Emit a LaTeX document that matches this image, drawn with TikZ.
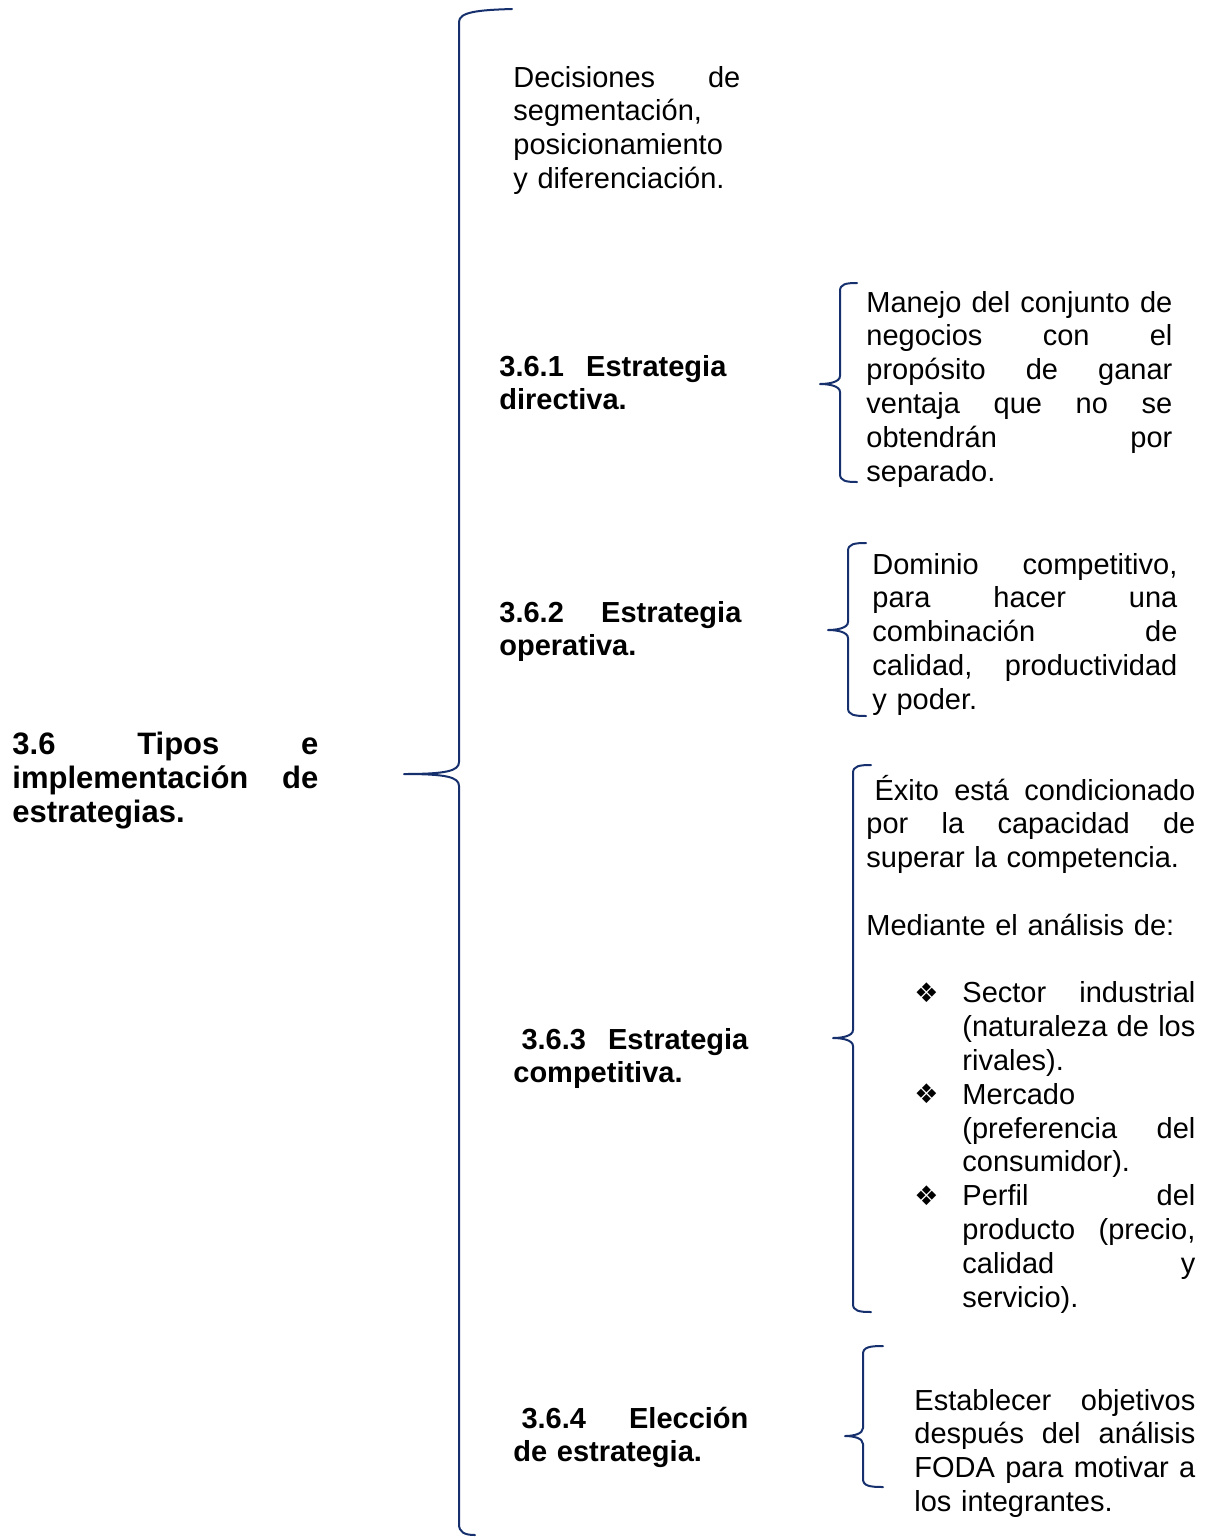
\documentclass[tikz,border=0pt]{standalone}
\usepackage{fontspec}
\setmainfont{Liberation Sans}
\newfontfamily\symfont{DejaVu Sans}
\definecolor{bracecol}{RGB}{22,48,110}
\newlength\jw
\newcommand\jlw[2]{\leavevmode{\spaceskip=0.278em plus 1fil\relax\hbox to #1{#2}}}
\newcommand\jl[1]{\jlw{\jw}{#1}}
\newcommand\bi[1]{\leavevmode\makebox[48pt][l]{\hspace*{24pt}\raisebox{0.3pt}{\symfont\fontsize{13.5pt}{16.9pt}\selectfont ❖}}\jlw{116.5pt}{#1}}
\newcommand\bc[1]{\leavevmode\hspace*{48pt}\jlw{116.5pt}{#1}}
\newcommand\bn[1]{\leavevmode\hspace*{48pt}#1}
\newcommand\mybrace[6]{% #1 x vertical, #2 x ends, #3 x tip, #4 y top, #5 y tip, #6 y bottom
  \draw[bracestyle] (#2,#4) .. controls ({#1+0.35*(#2-#1)},#4) and (#1,{#4+1}) .. (#1,{#4+8})
    -- (#1,{#5-8}) .. controls (#1,{#5-2}) and ({#3+0.45*(#1-#3)},#5) .. (#3,#5)
    .. controls ({#3+0.45*(#1-#3)},#5) and (#1,{#5+2}) .. (#1,{#5+8})
    -- (#1,{#6-8}) .. controls (#1,{#6-1}) and ({#1+0.35*(#2-#1)},#6) .. (#2,#6);}
\begin{document}
\begin{tikzpicture}[x=0.5pt,y=-0.5pt,
  bracestyle/.style={draw=bracecol,line width=1pt,line cap=round,line join=round},
  jwidth/.style={text width=#1,execute at begin node={\setlength\jw{#1}}},
  txt/.style={font=\fontsize{14.5pt}{16.9pt}\selectfont,inner sep=0pt,anchor=base west,align=left},
  btxt/.style={txt,font=\fontsize{14.5pt}{16.9pt}\selectfont\bfseries},
  ttl/.style={font=\fontsize{15.5pt}{17pt}\selectfont\bfseries,inner sep=0pt,anchor=base west,align=left}]
\useasboundingbox (0,0) rectangle (1209,1537);

% title
\node[ttl,jwidth=153pt] (title) at (12,754) {\jl{3.6 Tipos e}\\ \jl{implementación de}\\ estrategias.};

% main brace
\coordinate (mtop) at (512,9);
\coordinate (mtip) at (404,774);
\coordinate (mbot) at (475,1535);
\draw[bracestyle] (mtop) .. controls (478,10) and (459,12) .. (459,22)
  -- (459,762) .. controls (459,771) and (446,774) .. (mtip)
  .. controls (446,774) and (459,777) .. (459,786)
  -- (459,1524) .. controls (459,1532) and (464,1535) .. (mbot);

% texts
\node[txt,jwidth=113.5pt] (dec) at (513,87) {\jl{Decisiones de}\\ segmentación,\\ posicionamiento\\ y diferenciación.};

\node[btxt,jwidth=113.5pt] (t1) at (499,376) {\jl{3.6.1 Estrategia}\\ directiva.};
\node[txt,jwidth=153pt] (d1) at (866,312) {\jl{Manejo del conjunto de}\\ \jl{negocios con el}\\ \jl{propósito de ganar}\\ \jl{ventaja que no se}\\ \jl{obtendrán por}\\ separado.};

\node[btxt,jwidth=121pt] (t2) at (499,622) {\jl{3.6.2 Estrategia}\\ operativa.};
\node[txt,jwidth=152.5pt] (d2) at (872,574) {\jl{Dominio competitivo,}\\ \jl{para hacer una}\\ \jl{combinación de}\\ \jl{calidad, productividad}\\ y poder.};

\node[btxt,jwidth=117.5pt] (t3) at (513,1049) {\jl{\kern.28em 3.6.3 Estrategia}\\ competitiva.};
\node[txt,jwidth=164.5pt] (d3) at (866,800) {\jl{\kern.28em Éxito está condicionado}\\ \jl{por la capacidad de}\\ superar la competencia.\\[16.9pt]
Mediante el análisis de:\\[16.9pt]
\bi{Sector industrial}\\ \bc{(naturaleza de los}\\ \bn{rivales).}\\
\bi{Mercado\hfil}\\ \bc{(preferencia del}\\ \bn{consumidor).}\\
\bi{Perfil del}\\ \bc{producto (precio,}\\ \bc{calidad y}\\ \bn{servicio).}};

\node[btxt,jwidth=117.5pt] (t4) at (513,1428) {\jl{\kern.28em 3.6.4 Elección}\\ de estrategia.};
\node[txt,jwidth=140.5pt] (d4) at (914,1410) {\jl{Establecer objetivos}\\ \jl{después del análisis}\\ \jl{FODA para motivar a}\\ los integrantes.};

% small braces
\mybrace{840}{857}{820}{283}{384}{482}
\mybrace{848}{866}{828}{543}{630}{716}
\mybrace{853}{871}{833}{765}{1038}{1312}
\mybrace{863}{883}{845}{1346}{1436}{1487}
\end{tikzpicture}
\end{document}
